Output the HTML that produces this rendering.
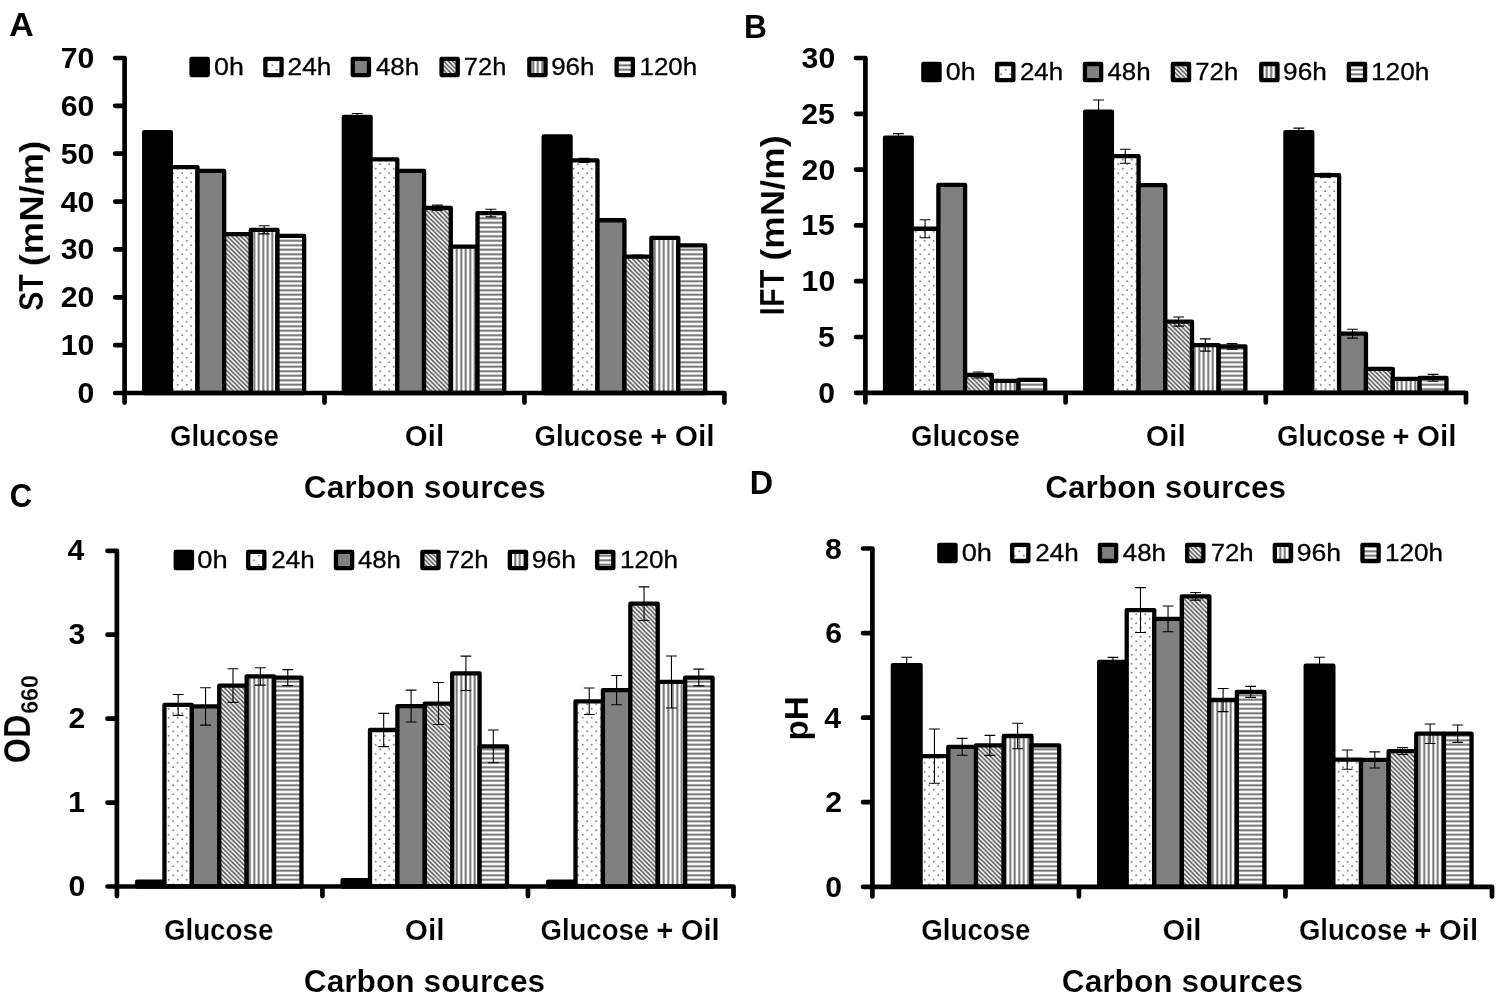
<!DOCTYPE html>
<html><head><meta charset="utf-8"><title>Figure</title>
<style>html,body{margin:0;padding:0;background:#fff}svg{display:block}text{font-family:"Liberation Sans",sans-serif}.e{stroke:#fff;stroke-width:.2px}.t{stroke:#000;stroke-width:.3px}</style>
</head><body>
<svg width="1500" height="999" viewBox="0 0 1500 999">
<filter id="bl" x="0" y="0" width="1500" height="999" filterUnits="userSpaceOnUse" color-interpolation-filters="sRGB"><feGaussianBlur stdDeviation="0.6"/></filter>
<rect width="1500" height="999" fill="#fff"/>
<g filter="url(#bl)">
<rect x="-10" y="-10" width="1520" height="1019" fill="#fff"/>
<defs>
<pattern id="pd" width="9" height="9" patternUnits="userSpaceOnUse"><rect width="9" height="9" fill="#fff"/><circle cx="2.2" cy="2.2" r="1.0" fill="#8c8c8c"/><circle cx="6.7" cy="6.7" r="1.0" fill="#8c8c8c"/></pattern>
<pattern id="ph" width="4.5" height="4.5" patternUnits="userSpaceOnUse"><rect width="4.5" height="4.5" fill="#fff"/><path d="M-1 -1L5.5 5.5M-1 3.5L1 5.5M3.5 -1L5.5 1" stroke="#555" stroke-width="1.5"/></pattern>
<pattern id="pv" width="4.5" height="4.5" patternUnits="userSpaceOnUse"><rect width="4.5" height="4.5" fill="#fff"/><rect x="1.3" width="1.9" height="4.5" fill="#6a6a6a"/></pattern>
<pattern id="pz" width="4.5" height="4.5" patternUnits="userSpaceOnUse"><rect width="4.5" height="4.5" fill="#fff"/><rect y="1.3" width="4.5" height="1.9" fill="#6a6a6a"/></pattern>
</defs>
<rect x="144.19" y="132.18" width="26.66" height="260.82" fill="#000" stroke="#000" stroke-width="4.3" stroke-linejoin="round"/>
<rect x="170.85" y="167.11" width="26.66" height="225.89" fill="url(#pd)" stroke="#000" stroke-width="4.3" stroke-linejoin="round"/>
<rect x="197.51" y="170.94" width="26.66" height="222.06" fill="#808080" stroke="#000" stroke-width="4.3" stroke-linejoin="round"/>
<rect x="224.17" y="234.11" width="26.66" height="158.89" fill="url(#ph)" stroke="#000" stroke-width="4.3" stroke-linejoin="round"/>
<rect x="250.82" y="229.81" width="26.66" height="163.19" fill="url(#pv)" stroke="#000" stroke-width="4.3" stroke-linejoin="round"/>
<rect x="277.48" y="235.79" width="26.66" height="157.21" fill="url(#pz)" stroke="#000" stroke-width="4.3" stroke-linejoin="round"/>
<rect x="343.83" y="116.86" width="26.74" height="276.14" fill="#000" stroke="#000" stroke-width="4.3" stroke-linejoin="round"/>
<rect x="370.57" y="159.46" width="26.74" height="233.54" fill="url(#pd)" stroke="#000" stroke-width="4.3" stroke-linejoin="round"/>
<rect x="397.31" y="170.94" width="26.74" height="222.06" fill="#808080" stroke="#000" stroke-width="4.3" stroke-linejoin="round"/>
<rect x="424.05" y="207.79" width="26.74" height="185.21" fill="url(#ph)" stroke="#000" stroke-width="4.3" stroke-linejoin="round"/>
<rect x="450.79" y="246.56" width="26.74" height="146.44" fill="url(#pv)" stroke="#000" stroke-width="4.3" stroke-linejoin="round"/>
<rect x="477.53" y="213.06" width="26.74" height="179.94" fill="url(#pz)" stroke="#000" stroke-width="4.3" stroke-linejoin="round"/>
<rect x="543.66" y="136.49" width="26.92" height="256.51" fill="#000" stroke="#000" stroke-width="4.3" stroke-linejoin="round"/>
<rect x="570.58" y="160.41" width="26.92" height="232.59" fill="url(#pd)" stroke="#000" stroke-width="4.3" stroke-linejoin="round"/>
<rect x="597.51" y="220.24" width="26.92" height="172.76" fill="#808080" stroke="#000" stroke-width="4.3" stroke-linejoin="round"/>
<rect x="624.43" y="256.61" width="26.92" height="136.39" fill="url(#ph)" stroke="#000" stroke-width="4.3" stroke-linejoin="round"/>
<rect x="651.36" y="237.94" width="26.92" height="155.06" fill="url(#pv)" stroke="#000" stroke-width="4.3" stroke-linejoin="round"/>
<rect x="678.28" y="245.36" width="26.92" height="147.64" fill="url(#pz)" stroke="#000" stroke-width="4.3" stroke-linejoin="round"/>
<path d="M264.15 225.74V233.88M258.75 225.74H269.55M258.75 233.88H269.55" stroke="#000" stroke-width="1.1" fill="none"/>
<path d="M357.20 113.51V120.21M351.80 113.51H362.60M351.80 120.21H362.60" stroke="#000" stroke-width="1.1" fill="none"/>
<path d="M437.42 205.16V210.42M432.02 205.16H442.82M432.02 210.42H442.82" stroke="#000" stroke-width="1.1" fill="none"/>
<path d="M490.90 209.23V216.89M485.50 209.23H496.30M485.50 216.89H496.30" stroke="#000" stroke-width="1.1" fill="none"/>
<path d="M584.05 158.40V162.42M578.65 158.40H589.45M578.65 162.42H589.45" stroke="#000" stroke-width="1.1" fill="none"/>
<path d="M637.90 255.17V258.04M632.50 255.17H643.30M632.50 258.04H643.30" stroke="#000" stroke-width="1.1" fill="none"/>
<path d="M115.20 58.00H124.60V402.60M115.20 345.14H124.60M115.20 297.29H124.60M115.20 249.43H124.60M115.20 201.57H124.60M115.20 153.71H124.60M115.20 105.86H124.60M115.20 393.00H724.40V402.60M324.53 393.00V402.60M524.47 393.00V402.60" stroke="#000" stroke-width="4.7" fill="none" stroke-linecap="round" stroke-linejoin="round"/>
<text transform="translate(77.55,403.00) scale(1.0000,1)" font-size="30.2" font-weight="700">0</text>
<text transform="translate(60.79,355.14) scale(1.0000,1)" font-size="30.2" font-weight="700">10</text>
<text transform="translate(60.79,307.29) scale(1.0000,1)" font-size="30.2" font-weight="700">20</text>
<text transform="translate(60.79,259.43) scale(1.0000,1)" font-size="30.2" font-weight="700">30</text>
<text transform="translate(60.79,211.57) scale(1.0000,1)" font-size="30.2" font-weight="700">40</text>
<text transform="translate(60.79,163.71) scale(1.0000,1)" font-size="30.2" font-weight="700">50</text>
<text transform="translate(60.79,115.86) scale(1.0000,1)" font-size="30.2" font-weight="700">60</text>
<text transform="translate(60.79,68.00) scale(1.0000,1)" font-size="30.2" font-weight="700">70</text>
<rect x="191.55" y="58.90" width="16.20" height="16.20" fill="#000" stroke="#000" stroke-width="4.3" stroke-linejoin="round"/>
<text class="t" transform="translate(214.03,74.70) scale(1.0938,1)" font-size="24.5" font-weight="400">0h</text>
<rect x="265.35" y="58.90" width="16.20" height="16.20" fill="url(#pd)" stroke="#000" stroke-width="4.3" stroke-linejoin="round"/>
<text class="t" transform="translate(287.58,74.70) scale(1.0736,1)" font-size="24.5" font-weight="400">24h</text>
<rect x="352.75" y="58.90" width="16.20" height="16.20" fill="#808080" stroke="#000" stroke-width="4.3" stroke-linejoin="round"/>
<text class="t" transform="translate(375.92,74.70) scale(1.0601,1)" font-size="24.5" font-weight="400">48h</text>
<rect x="441.55" y="58.90" width="16.20" height="16.20" fill="url(#ph)" stroke="#000" stroke-width="4.3" stroke-linejoin="round"/>
<text class="t" transform="translate(463.83,74.70) scale(1.0394,1)" font-size="24.5" font-weight="400">72h</text>
<rect x="529.35" y="58.90" width="16.20" height="16.20" fill="url(#pv)" stroke="#000" stroke-width="4.3" stroke-linejoin="round"/>
<text class="t" transform="translate(551.16,74.70) scale(1.0614,1)" font-size="24.5" font-weight="400">96h</text>
<rect x="616.65" y="58.90" width="16.20" height="16.20" fill="url(#pz)" stroke="#000" stroke-width="4.3" stroke-linejoin="round"/>
<text class="t" transform="translate(639.56,74.70) scale(1.0571,1)" font-size="24.5" font-weight="400">120h</text>
<text class="e" transform="translate(169.89,445.60) scale(0.9594,1)" font-size="28.8" font-weight="700">Glucose</text>
<text class="e" transform="translate(404.82,445.60) scale(1.0225,1)" font-size="28.8" font-weight="700">Oil</text>
<text class="e" transform="translate(0,445.60)" font-weight="700"><tspan x="534.50" font-size="28.8" textLength="108.62" lengthAdjust="spacingAndGlyphs">Glucose</tspan> <tspan x="650.17" font-size="28.8" textLength="16.97" lengthAdjust="spacingAndGlyphs">+</tspan> <tspan x="674.71" font-size="28.8" textLength="39.82" lengthAdjust="spacingAndGlyphs">Oil</tspan></text>
<text class="e" transform="translate(303.73,498.00) scale(1.0319,1)" font-size="30.8" font-weight="700">Carbon sources</text>
<rect x="885.02" y="137.68" width="26.69" height="255.12" fill="#000" stroke="#000" stroke-width="4.3" stroke-linejoin="round"/>
<rect x="911.71" y="228.75" width="26.69" height="164.05" fill="url(#pd)" stroke="#000" stroke-width="4.3" stroke-linejoin="round"/>
<rect x="938.41" y="184.89" width="26.69" height="207.91" fill="#808080" stroke="#000" stroke-width="4.3" stroke-linejoin="round"/>
<rect x="965.10" y="374.94" width="26.69" height="17.86" fill="url(#ph)" stroke="#000" stroke-width="4.3" stroke-linejoin="round"/>
<rect x="991.79" y="380.97" width="26.69" height="11.83" fill="url(#pv)" stroke="#000" stroke-width="4.3" stroke-linejoin="round"/>
<rect x="1018.49" y="379.97" width="26.69" height="12.83" fill="url(#pz)" stroke="#000" stroke-width="4.3" stroke-linejoin="round"/>
<rect x="1085.22" y="111.57" width="26.69" height="281.23" fill="#000" stroke="#000" stroke-width="4.3" stroke-linejoin="round"/>
<rect x="1111.91" y="156.21" width="26.69" height="236.59" fill="url(#pd)" stroke="#000" stroke-width="4.3" stroke-linejoin="round"/>
<rect x="1138.61" y="185.22" width="26.69" height="207.58" fill="#808080" stroke="#000" stroke-width="4.3" stroke-linejoin="round"/>
<rect x="1165.30" y="321.60" width="26.69" height="71.20" fill="url(#ph)" stroke="#000" stroke-width="4.3" stroke-linejoin="round"/>
<rect x="1191.99" y="345.04" width="26.69" height="47.76" fill="url(#pv)" stroke="#000" stroke-width="4.3" stroke-linejoin="round"/>
<rect x="1218.69" y="346.37" width="26.69" height="46.43" fill="url(#pz)" stroke="#000" stroke-width="4.3" stroke-linejoin="round"/>
<rect x="1285.42" y="132.10" width="26.84" height="260.70" fill="#000" stroke="#000" stroke-width="4.3" stroke-linejoin="round"/>
<rect x="1312.26" y="175.18" width="26.84" height="217.62" fill="url(#pd)" stroke="#000" stroke-width="4.3" stroke-linejoin="round"/>
<rect x="1339.11" y="333.65" width="26.84" height="59.15" fill="#808080" stroke="#000" stroke-width="4.3" stroke-linejoin="round"/>
<rect x="1365.95" y="368.81" width="26.84" height="23.99" fill="url(#ph)" stroke="#000" stroke-width="4.3" stroke-linejoin="round"/>
<rect x="1392.79" y="378.85" width="26.84" height="13.95" fill="url(#pv)" stroke="#000" stroke-width="4.3" stroke-linejoin="round"/>
<rect x="1419.64" y="377.85" width="26.84" height="14.95" fill="url(#pz)" stroke="#000" stroke-width="4.3" stroke-linejoin="round"/>
<path d="M898.37 133.66V141.70M892.97 133.66H903.77M892.97 141.70H903.77" stroke="#000" stroke-width="1.1" fill="none"/>
<path d="M925.06 219.82V237.68M919.66 219.82H930.46M919.66 237.68H930.46" stroke="#000" stroke-width="1.1" fill="none"/>
<path d="M978.45 371.93V377.96M973.05 371.93H983.85M973.05 377.96H983.85" stroke="#000" stroke-width="1.1" fill="none"/>
<path d="M1098.57 99.96V123.17M1093.17 99.96H1103.97M1093.17 123.17H1103.97" stroke="#000" stroke-width="1.1" fill="none"/>
<path d="M1125.26 149.18V163.24M1119.86 149.18H1130.66M1119.86 163.24H1130.66" stroke="#000" stroke-width="1.1" fill="none"/>
<path d="M1178.65 317.02V326.17M1173.25 317.02H1184.05M1173.25 326.17H1184.05" stroke="#000" stroke-width="1.1" fill="none"/>
<path d="M1205.34 338.90V351.17M1199.94 338.90H1210.74M1199.94 351.17H1210.74" stroke="#000" stroke-width="1.1" fill="none"/>
<path d="M1232.03 343.58V349.16M1226.63 343.58H1237.43M1226.63 349.16H1237.43" stroke="#000" stroke-width="1.1" fill="none"/>
<path d="M1298.84 128.08V136.12M1293.44 128.08H1304.24M1293.44 136.12H1304.24" stroke="#000" stroke-width="1.1" fill="none"/>
<path d="M1325.69 173.28V177.08M1320.29 173.28H1331.09M1320.29 177.08H1331.09" stroke="#000" stroke-width="1.1" fill="none"/>
<path d="M1352.53 329.19V338.12M1347.13 329.19H1357.93M1347.13 338.12H1357.93" stroke="#000" stroke-width="1.1" fill="none"/>
<path d="M1433.06 374.39V381.31M1427.66 374.39H1438.46M1427.66 381.31H1438.46" stroke="#000" stroke-width="1.1" fill="none"/>
<path d="M856.00 58.00H865.40V402.40M856.00 337.00H865.40M856.00 281.20H865.40M856.00 225.40H865.40M856.00 169.60H865.40M856.00 113.80H865.40M856.00 392.80H1466.00V402.40M1065.60 392.80V402.40M1265.80 392.80V402.40" stroke="#000" stroke-width="4.7" fill="none" stroke-linecap="round" stroke-linejoin="round"/>
<text transform="translate(818.35,402.80) scale(1.0000,1)" font-size="30.2" font-weight="700">0</text>
<text transform="translate(817.97,347.00) scale(1.0000,1)" font-size="30.2" font-weight="700">5</text>
<text transform="translate(801.59,291.20) scale(1.0000,1)" font-size="30.2" font-weight="700">10</text>
<text transform="translate(801.21,235.40) scale(1.0000,1)" font-size="30.2" font-weight="700">15</text>
<text transform="translate(801.59,179.60) scale(1.0000,1)" font-size="30.2" font-weight="700">20</text>
<text transform="translate(801.21,123.80) scale(1.0000,1)" font-size="30.2" font-weight="700">25</text>
<text transform="translate(801.59,68.00) scale(1.0000,1)" font-size="30.2" font-weight="700">30</text>
<rect x="923.35" y="64.00" width="16.20" height="16.20" fill="#000" stroke="#000" stroke-width="4.3" stroke-linejoin="round"/>
<text class="t" transform="translate(945.83,79.70) scale(1.0938,1)" font-size="24.5" font-weight="400">0h</text>
<rect x="997.15" y="64.00" width="16.20" height="16.20" fill="url(#pd)" stroke="#000" stroke-width="4.3" stroke-linejoin="round"/>
<text class="t" transform="translate(1019.90,79.70) scale(1.0578,1)" font-size="24.5" font-weight="400">24h</text>
<rect x="1084.95" y="64.00" width="16.20" height="16.20" fill="#808080" stroke="#000" stroke-width="4.3" stroke-linejoin="round"/>
<text class="t" transform="translate(1107.42,79.70) scale(1.0575,1)" font-size="24.5" font-weight="400">48h</text>
<rect x="1172.85" y="64.00" width="16.20" height="16.20" fill="url(#ph)" stroke="#000" stroke-width="4.3" stroke-linejoin="round"/>
<text class="t" transform="translate(1195.31,79.70) scale(1.0499,1)" font-size="24.5" font-weight="400">72h</text>
<rect x="1261.25" y="64.00" width="16.20" height="16.20" fill="url(#pv)" stroke="#000" stroke-width="4.3" stroke-linejoin="round"/>
<text class="t" transform="translate(1283.06,79.70) scale(1.0692,1)" font-size="24.5" font-weight="400">96h</text>
<rect x="1348.85" y="64.00" width="16.20" height="16.20" fill="url(#pz)" stroke="#000" stroke-width="4.3" stroke-linejoin="round"/>
<text class="t" transform="translate(1371.03,79.70) scale(1.0708,1)" font-size="24.5" font-weight="400">120h</text>
<text class="e" transform="translate(910.89,445.60) scale(0.9594,1)" font-size="28.8" font-weight="700">Glucose</text>
<text class="e" transform="translate(1145.80,445.60) scale(1.0395,1)" font-size="28.8" font-weight="700">Oil</text>
<text class="e" transform="translate(0,445.60)" font-weight="700"><tspan x="1276.90" font-size="28.8" textLength="108.62" lengthAdjust="spacingAndGlyphs">Glucose</tspan> <tspan x="1392.57" font-size="28.8" textLength="16.97" lengthAdjust="spacingAndGlyphs">+</tspan> <tspan x="1417.12" font-size="28.8" textLength="39.38" lengthAdjust="spacingAndGlyphs">Oil</tspan></text>
<text class="e" transform="translate(1045.13,498.00) scale(1.0284,1)" font-size="30.8" font-weight="700">Carbon sources</text>
<rect x="137.05" y="881.72" width="27.40" height="4.78" fill="#000" stroke="#000" stroke-width="4.3" stroke-linejoin="round"/>
<rect x="164.46" y="704.97" width="27.40" height="181.53" fill="url(#pd)" stroke="#000" stroke-width="4.3" stroke-linejoin="round"/>
<rect x="191.86" y="706.40" width="27.40" height="180.10" fill="#808080" stroke="#000" stroke-width="4.3" stroke-linejoin="round"/>
<rect x="219.27" y="685.58" width="27.40" height="200.92" fill="url(#ph)" stroke="#000" stroke-width="4.3" stroke-linejoin="round"/>
<rect x="246.67" y="676.44" width="27.40" height="210.06" fill="url(#pv)" stroke="#000" stroke-width="4.3" stroke-linejoin="round"/>
<rect x="274.08" y="677.61" width="27.40" height="208.89" fill="url(#pz)" stroke="#000" stroke-width="4.3" stroke-linejoin="round"/>
<rect x="342.59" y="880.21" width="27.40" height="6.29" fill="#000" stroke="#000" stroke-width="4.3" stroke-linejoin="round"/>
<rect x="369.99" y="729.98" width="27.40" height="156.52" fill="url(#pd)" stroke="#000" stroke-width="4.3" stroke-linejoin="round"/>
<rect x="397.40" y="706.06" width="27.40" height="180.44" fill="#808080" stroke="#000" stroke-width="4.3" stroke-linejoin="round"/>
<rect x="424.80" y="703.54" width="27.40" height="182.96" fill="url(#ph)" stroke="#000" stroke-width="4.3" stroke-linejoin="round"/>
<rect x="452.20" y="673.33" width="27.40" height="213.17" fill="url(#pv)" stroke="#000" stroke-width="4.3" stroke-linejoin="round"/>
<rect x="479.61" y="746.35" width="27.40" height="140.15" fill="url(#pz)" stroke="#000" stroke-width="4.3" stroke-linejoin="round"/>
<rect x="548.12" y="881.72" width="27.40" height="4.78" fill="#000" stroke="#000" stroke-width="4.3" stroke-linejoin="round"/>
<rect x="575.52" y="701.28" width="27.40" height="185.22" fill="url(#pd)" stroke="#000" stroke-width="4.3" stroke-linejoin="round"/>
<rect x="602.93" y="690.12" width="27.40" height="196.38" fill="#808080" stroke="#000" stroke-width="4.3" stroke-linejoin="round"/>
<rect x="630.33" y="603.67" width="27.40" height="282.83" fill="url(#ph)" stroke="#000" stroke-width="4.3" stroke-linejoin="round"/>
<rect x="657.74" y="681.97" width="27.40" height="204.53" fill="url(#pv)" stroke="#000" stroke-width="4.3" stroke-linejoin="round"/>
<rect x="685.14" y="677.53" width="27.40" height="208.97" fill="url(#pz)" stroke="#000" stroke-width="4.3" stroke-linejoin="round"/>
<path d="M178.16 694.56V715.38M172.76 694.56H183.56M172.76 715.38H183.56" stroke="#000" stroke-width="1.1" fill="none"/>
<path d="M205.56 687.68V725.11M200.16 687.68H210.96M200.16 725.11H210.96" stroke="#000" stroke-width="1.1" fill="none"/>
<path d="M232.97 668.80V702.37M227.57 668.80H238.37M227.57 702.37H238.37" stroke="#000" stroke-width="1.1" fill="none"/>
<path d="M260.37 667.71V685.16M254.97 667.71H265.77M254.97 685.16H265.77" stroke="#000" stroke-width="1.1" fill="none"/>
<path d="M287.78 669.64V685.58M282.38 669.64H293.18M282.38 685.58H293.18" stroke="#000" stroke-width="1.1" fill="none"/>
<path d="M383.69 713.36V746.60M378.29 713.36H389.09M378.29 746.60H389.09" stroke="#000" stroke-width="1.1" fill="none"/>
<path d="M411.10 690.12V722.01M405.70 690.12H416.50M405.70 722.01H416.50" stroke="#000" stroke-width="1.1" fill="none"/>
<path d="M438.50 682.56V724.52M433.10 682.56H443.90M433.10 724.52H443.90" stroke="#000" stroke-width="1.1" fill="none"/>
<path d="M465.91 656.13V690.54M460.51 656.13H471.31M460.51 690.54H471.31" stroke="#000" stroke-width="1.1" fill="none"/>
<path d="M493.31 729.98V762.71M487.91 729.98H498.71M487.91 762.71H498.71" stroke="#000" stroke-width="1.1" fill="none"/>
<path d="M589.23 688.02V714.54M583.83 688.02H594.63M583.83 714.54H594.63" stroke="#000" stroke-width="1.1" fill="none"/>
<path d="M616.63 675.43V704.80M611.23 675.43H622.03M611.23 704.80H622.03" stroke="#000" stroke-width="1.1" fill="none"/>
<path d="M644.04 586.89V620.46M638.64 586.89H649.44M638.64 620.46H649.44" stroke="#000" stroke-width="1.1" fill="none"/>
<path d="M671.44 655.96V707.99M666.04 655.96H676.84M666.04 707.99H676.84" stroke="#000" stroke-width="1.1" fill="none"/>
<path d="M698.84 669.13V685.92M693.44 669.13H704.24M693.44 685.92H704.24" stroke="#000" stroke-width="1.1" fill="none"/>
<path d="M107.50 550.80H116.90V896.10M107.50 802.58H116.90M107.50 718.65H116.90M107.50 634.72H116.90M107.50 886.50H733.50V896.10M322.43 886.50V896.10M527.97 886.50V896.10" stroke="#000" stroke-width="4.7" fill="none" stroke-linecap="round" stroke-linejoin="round"/>
<text transform="translate(68.55,895.70) scale(1.0000,1)" font-size="30.2" font-weight="700">0</text>
<text transform="translate(68.17,811.78) scale(1.0000,1)" font-size="30.2" font-weight="700">1</text>
<text transform="translate(68.47,727.85) scale(1.0000,1)" font-size="30.2" font-weight="700">2</text>
<text transform="translate(68.40,643.92) scale(1.0000,1)" font-size="30.2" font-weight="700">3</text>
<text transform="translate(67.49,560.00) scale(1.0000,1)" font-size="30.2" font-weight="700">4</text>
<rect x="175.75" y="551.90" width="16.20" height="16.20" fill="#000" stroke="#000" stroke-width="4.3" stroke-linejoin="round"/>
<text class="t" transform="translate(197.21,567.70) scale(1.1141,1)" font-size="24.5" font-weight="400">0h</text>
<rect x="248.15" y="551.90" width="16.20" height="16.20" fill="url(#pd)" stroke="#000" stroke-width="4.3" stroke-linejoin="round"/>
<text class="t" transform="translate(271.30,567.70) scale(1.0604,1)" font-size="24.5" font-weight="400">24h</text>
<rect x="335.95" y="551.90" width="16.20" height="16.20" fill="#808080" stroke="#000" stroke-width="4.3" stroke-linejoin="round"/>
<text class="t" transform="translate(357.92,567.70) scale(1.0523,1)" font-size="24.5" font-weight="400">48h</text>
<rect x="422.35" y="551.90" width="16.20" height="16.20" fill="url(#ph)" stroke="#000" stroke-width="4.3" stroke-linejoin="round"/>
<text class="t" transform="translate(445.71,567.70) scale(1.0499,1)" font-size="24.5" font-weight="400">72h</text>
<rect x="509.85" y="551.90" width="16.20" height="16.20" fill="url(#pv)" stroke="#000" stroke-width="4.3" stroke-linejoin="round"/>
<text class="t" transform="translate(531.64,567.70) scale(1.0849,1)" font-size="24.5" font-weight="400">96h</text>
<rect x="597.15" y="551.90" width="16.20" height="16.20" fill="url(#pz)" stroke="#000" stroke-width="4.3" stroke-linejoin="round"/>
<text class="t" transform="translate(620.05,567.70) scale(1.0630,1)" font-size="24.5" font-weight="400">120h</text>
<text class="e" transform="translate(163.89,940.00) scale(0.9630,1)" font-size="28.8" font-weight="700">Glucose</text>
<text class="e" transform="translate(404.81,940.00) scale(1.0339,1)" font-size="28.8" font-weight="700">Oil</text>
<text class="e" transform="translate(0,940.00)" font-weight="700"><tspan x="540.50" font-size="28.8" textLength="108.62" lengthAdjust="spacingAndGlyphs">Glucose</tspan> <tspan x="656.17" font-size="28.8" textLength="16.97" lengthAdjust="spacingAndGlyphs">+</tspan> <tspan x="680.73" font-size="28.8" textLength="38.94" lengthAdjust="spacingAndGlyphs">Oil</tspan></text>
<text class="e" transform="translate(303.73,992.00) scale(1.0302,1)" font-size="30.8" font-weight="700">Carbon sources</text>
<rect x="892.85" y="665.21" width="27.72" height="221.59" fill="#000" stroke="#000" stroke-width="4.3" stroke-linejoin="round"/>
<rect x="920.57" y="756.13" width="27.72" height="130.67" fill="url(#pd)" stroke="#000" stroke-width="4.3" stroke-linejoin="round"/>
<rect x="948.30" y="746.83" width="27.72" height="139.97" fill="#808080" stroke="#000" stroke-width="4.3" stroke-linejoin="round"/>
<rect x="976.02" y="745.35" width="27.72" height="141.45" fill="url(#ph)" stroke="#000" stroke-width="4.3" stroke-linejoin="round"/>
<rect x="1003.74" y="736.00" width="27.72" height="150.80" fill="url(#pv)" stroke="#000" stroke-width="4.3" stroke-linejoin="round"/>
<rect x="1031.46" y="745.35" width="27.72" height="141.45" fill="url(#pz)" stroke="#000" stroke-width="4.3" stroke-linejoin="round"/>
<rect x="1099.19" y="662.00" width="27.54" height="224.80" fill="#000" stroke="#000" stroke-width="4.3" stroke-linejoin="round"/>
<rect x="1126.72" y="610.03" width="27.54" height="276.77" fill="url(#pd)" stroke="#000" stroke-width="4.3" stroke-linejoin="round"/>
<rect x="1154.26" y="618.91" width="27.54" height="267.89" fill="#808080" stroke="#000" stroke-width="4.3" stroke-linejoin="round"/>
<rect x="1181.80" y="596.28" width="27.54" height="290.52" fill="url(#ph)" stroke="#000" stroke-width="4.3" stroke-linejoin="round"/>
<rect x="1209.34" y="700.02" width="27.54" height="186.78" fill="url(#pv)" stroke="#000" stroke-width="4.3" stroke-linejoin="round"/>
<rect x="1236.88" y="691.85" width="27.54" height="194.95" fill="url(#pz)" stroke="#000" stroke-width="4.3" stroke-linejoin="round"/>
<rect x="1305.72" y="665.64" width="27.64" height="221.16" fill="#000" stroke="#000" stroke-width="4.3" stroke-linejoin="round"/>
<rect x="1333.36" y="759.60" width="27.64" height="127.20" fill="url(#pd)" stroke="#000" stroke-width="4.3" stroke-linejoin="round"/>
<rect x="1361.00" y="759.94" width="27.64" height="126.86" fill="#808080" stroke="#000" stroke-width="4.3" stroke-linejoin="round"/>
<rect x="1388.63" y="751.06" width="27.64" height="135.74" fill="url(#ph)" stroke="#000" stroke-width="4.3" stroke-linejoin="round"/>
<rect x="1416.27" y="733.72" width="27.64" height="153.08" fill="url(#pv)" stroke="#000" stroke-width="4.3" stroke-linejoin="round"/>
<rect x="1443.91" y="733.72" width="27.64" height="153.08" fill="url(#pz)" stroke="#000" stroke-width="4.3" stroke-linejoin="round"/>
<path d="M906.71 657.18V673.25M901.31 657.18H912.11M901.31 673.25H912.11" stroke="#000" stroke-width="1.1" fill="none"/>
<path d="M934.43 729.07V783.20M929.03 729.07H939.83M929.03 783.20H939.83" stroke="#000" stroke-width="1.1" fill="none"/>
<path d="M962.16 738.37V755.29M956.76 738.37H967.56M956.76 755.29H967.56" stroke="#000" stroke-width="1.1" fill="none"/>
<path d="M989.88 735.37V755.33M984.48 735.37H995.28M984.48 755.33H995.28" stroke="#000" stroke-width="1.1" fill="none"/>
<path d="M1017.60 723.32V748.69M1012.20 723.32H1023.00M1012.20 748.69H1023.00" stroke="#000" stroke-width="1.1" fill="none"/>
<path d="M1112.96 657.35V666.65M1107.56 657.35H1118.36M1107.56 666.65H1118.36" stroke="#000" stroke-width="1.1" fill="none"/>
<path d="M1140.49 587.62V632.44M1135.09 587.62H1145.89M1135.09 632.44H1145.89" stroke="#000" stroke-width="1.1" fill="none"/>
<path d="M1168.03 606.01V631.81M1162.63 606.01H1173.43M1162.63 631.81H1173.43" stroke="#000" stroke-width="1.1" fill="none"/>
<path d="M1195.57 592.48V600.09M1190.17 592.48H1200.97M1190.17 600.09H1200.97" stroke="#000" stroke-width="1.1" fill="none"/>
<path d="M1223.11 688.43V711.60M1217.71 688.43H1228.51M1217.71 711.60H1228.51" stroke="#000" stroke-width="1.1" fill="none"/>
<path d="M1250.64 686.36V697.35M1245.24 686.36H1256.04M1245.24 697.35H1256.04" stroke="#000" stroke-width="1.1" fill="none"/>
<path d="M1319.54 657.18V674.09M1314.14 657.18H1324.94M1314.14 674.09H1324.94" stroke="#000" stroke-width="1.1" fill="none"/>
<path d="M1347.18 750.00V769.20M1341.78 750.00H1352.58M1341.78 769.20H1352.58" stroke="#000" stroke-width="1.1" fill="none"/>
<path d="M1374.81 751.90V767.97M1369.41 751.90H1380.21M1369.41 767.97H1380.21" stroke="#000" stroke-width="1.1" fill="none"/>
<path d="M1402.45 747.67V754.44M1397.05 747.67H1407.85M1397.05 754.44H1407.85" stroke="#000" stroke-width="1.1" fill="none"/>
<path d="M1430.09 723.99V743.45M1424.69 723.99H1435.49M1424.69 743.45H1435.49" stroke="#000" stroke-width="1.1" fill="none"/>
<path d="M1457.73 725.05V742.39M1452.33 725.05H1463.13M1452.33 742.39H1463.13" stroke="#000" stroke-width="1.1" fill="none"/>
<path d="M863.00 548.50H872.40V896.40M863.00 802.22H872.40M863.00 717.65H872.40M863.00 633.08H872.40M863.00 886.80H1492.00V896.40M1078.93 886.80V896.40M1285.47 886.80V896.40" stroke="#000" stroke-width="4.7" fill="none" stroke-linecap="round" stroke-linejoin="round"/>
<text transform="translate(825.35,896.80) scale(1.0000,1)" font-size="30.2" font-weight="700">0</text>
<text transform="translate(825.27,812.22) scale(1.0000,1)" font-size="30.2" font-weight="700">2</text>
<text transform="translate(824.29,727.65) scale(1.0000,1)" font-size="30.2" font-weight="700">4</text>
<text transform="translate(825.20,643.08) scale(1.0000,1)" font-size="30.2" font-weight="700">6</text>
<text transform="translate(825.04,558.50) scale(1.0000,1)" font-size="30.2" font-weight="700">8</text>
<rect x="939.35" y="544.80" width="16.20" height="16.20" fill="#000" stroke="#000" stroke-width="4.3" stroke-linejoin="round"/>
<text class="t" transform="translate(961.71,560.60) scale(1.1100,1)" font-size="24.5" font-weight="400">0h</text>
<rect x="1012.15" y="544.80" width="16.20" height="16.20" fill="url(#pd)" stroke="#000" stroke-width="4.3" stroke-linejoin="round"/>
<text class="t" transform="translate(1035.30,560.60) scale(1.0631,1)" font-size="24.5" font-weight="400">24h</text>
<rect x="1099.95" y="544.80" width="16.20" height="16.20" fill="#808080" stroke="#000" stroke-width="4.3" stroke-linejoin="round"/>
<text class="t" transform="translate(1122.72,560.60) scale(1.0601,1)" font-size="24.5" font-weight="400">48h</text>
<rect x="1187.15" y="544.80" width="16.20" height="16.20" fill="url(#ph)" stroke="#000" stroke-width="4.3" stroke-linejoin="round"/>
<text class="t" transform="translate(1210.71,560.60) scale(1.0499,1)" font-size="24.5" font-weight="400">72h</text>
<rect x="1274.85" y="544.80" width="16.20" height="16.20" fill="url(#pv)" stroke="#000" stroke-width="4.3" stroke-linejoin="round"/>
<text class="t" transform="translate(1296.64,560.60) scale(1.0849,1)" font-size="24.5" font-weight="400">96h</text>
<rect x="1362.45" y="544.80" width="16.20" height="16.20" fill="url(#pz)" stroke="#000" stroke-width="4.3" stroke-linejoin="round"/>
<text class="t" transform="translate(1385.05,560.60) scale(1.0630,1)" font-size="24.5" font-weight="400">120h</text>
<text class="e" transform="translate(921.29,940.00) scale(0.9612,1)" font-size="28.8" font-weight="700">Glucose</text>
<text class="e" transform="translate(1162.43,940.00) scale(1.0168,1)" font-size="28.8" font-weight="700">Oil</text>
<text class="e" transform="translate(0,940.00)" font-weight="700"><tspan x="1298.90" font-size="28.8" textLength="108.62" lengthAdjust="spacingAndGlyphs">Glucose</tspan> <tspan x="1414.57" font-size="28.8" textLength="16.97" lengthAdjust="spacingAndGlyphs">+</tspan> <tspan x="1439.13" font-size="28.8" textLength="38.94" lengthAdjust="spacingAndGlyphs">Oil</tspan></text>
<text class="e" transform="translate(1061.73,992.00) scale(1.0302,1)" font-size="30.8" font-weight="700">Carbon sources</text>
<text class="e" transform="translate(43.20,0) rotate(-90)" font-weight="700"><tspan x="-310.86" font-size="34.8" textLength="36.66" lengthAdjust="spacingAndGlyphs">ST</tspan> <tspan x="-266.32" font-size="34" textLength="125.63" lengthAdjust="spacingAndGlyphs">(mN/m)</tspan></text>
<text class="e" transform="translate(784.20,0) rotate(-90)" font-weight="700"><tspan x="-315.57" font-size="34.8" textLength="45.94" lengthAdjust="spacingAndGlyphs">IFT</tspan> <tspan x="-260.82" font-size="34" textLength="125.63" lengthAdjust="spacingAndGlyphs">(mN/m)</tspan></text>
<text transform="translate(807.90,740.46) rotate(-90) scale(0.9925,1)" class="e" font-size="33.5" font-weight="700">pH</text>
<text transform="translate(29.70,763.20) rotate(-90) scale(0.8891,1)" class="e" font-size="36.5" font-weight="700">OD</text>
<text transform="translate(38.20,713.77) rotate(-90) scale(0.9460,1)" class="e" font-size="24.4" font-weight="700">660</text>
<text class="n" transform="translate(9.15,35.60) scale(1.0393,1)" font-size="32.6" font-weight="700">A</text>
<text class="n" transform="translate(744.11,38.20) scale(0.9730,1)" font-size="32.6" font-weight="700">B</text>
<text class="n" transform="translate(9.82,506.70) scale(0.9526,1)" font-size="32.6" font-weight="700">C</text>
<text class="n" transform="translate(749.72,494.00) scale(0.9916,1)" font-size="32.6" font-weight="700">D</text>
</g>
</svg>
</body></html>
